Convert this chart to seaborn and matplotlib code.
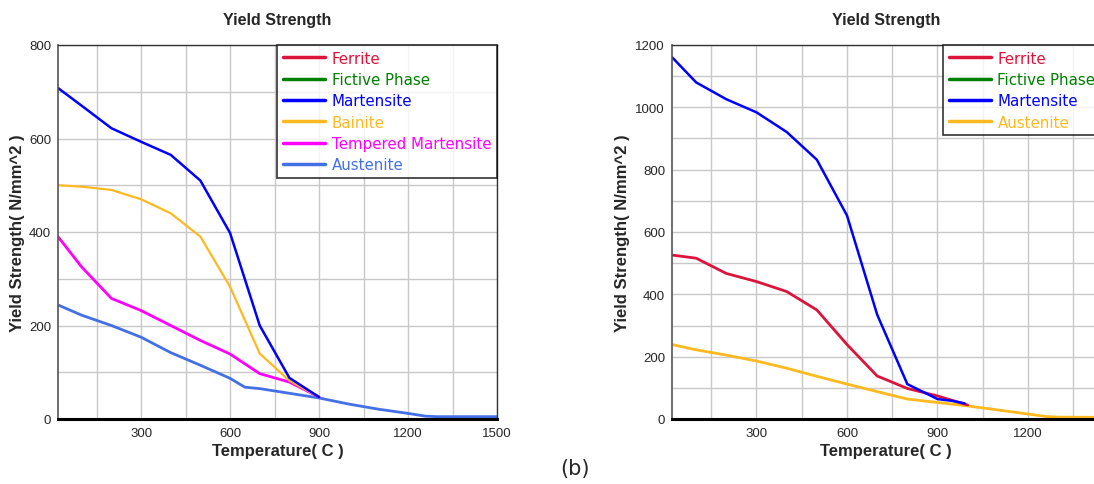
import matplotlib
matplotlib.use("Agg")
import matplotlib.pyplot as plt
from matplotlib.ticker import MultipleLocator, FixedLocator
from matplotlib.lines import Line2D
import seaborn as sns
import pandas as pd

# ---- data (left chart) ----
mart_L_T = [20, 100, 200, 300, 400, 500, 600, 700, 800, 900]
mart_L_Y = [708, 670, 622, 593, 565, 510, 398, 200, 88, 47]
bain_T = [20, 100, 200, 300, 400, 500, 600, 700, 800, 900]
bain_Y = [500, 497, 490, 470, 440, 390, 283, 140, 82, 47]
temp_T = [20, 100, 200, 300, 400, 500, 600, 700, 800, 900]
temp_Y = [390, 325, 258, 232, 200, 168, 139, 97, 79, 47]
aust_L_T = [20, 100, 200, 300, 400, 500, 600, 650, 700, 800, 900, 1000, 1100, 1200, 1260, 1300, 1500]
aust_L_Y = [244, 222, 200, 175, 142, 115, 87, 68, 65, 55, 45, 32, 21, 12, 6, 5, 5]

# ---- data (right chart) ----
mart_R_T = [20, 100, 200, 300, 400, 500, 600, 700, 800, 900, 950, 990]
mart_R_Y = [1161, 1080, 1026, 984, 921, 832, 653, 335, 112, 64, 58, 50]
ferr_T = [20, 100, 200, 300, 400, 500, 600, 700, 800, 900, 1000]
ferr_Y = [526, 516, 467, 441, 409, 350, 239, 138, 98, 74, 45]
aust_R_T = [20, 100, 200, 300, 400, 500, 600, 700, 800, 900, 1000, 1100, 1200, 1260, 1300, 1500]
aust_R_Y = [239, 222, 205, 186, 163, 137, 112, 88, 64, 53, 42, 29, 16, 8, 6, 5]

left_labels = ["Ferrite", "Fictive Phase", "Martensite", "Bainite", "Tempered Martensite", "Austenite"]
right_labels = ["Ferrite", "Fictive Phase", "Martensite", "Austenite"]
left_xticks = [300, 600, 900, 1200, 1500]
right_xticks = [300, 600, 900, 1200]

C_FERR = "#DC143C"
C_FICT = "#008000"
C_MART = "#0000FF"
C_BAIN = "#FFB920"
C_TEMP = "#FF00FF"
C_AUSL = "#4470E6"

sns.set_style("white")
plt.rcParams["font.family"] = ["Liberation Sans", "DejaVu Sans"]

W, H = 1094, 485
fig = plt.figure(figsize=(W / 100, H / 100), dpi=100)

def px_axes(l, t, r, b):
    return fig.add_axes([l / W, 1 - b / H, (r - l) / W, (b - t) / H])

axL = px_axes(58, 46, 497, 420)
axR = px_axes(672, 46, 1118.5, 420)

def draw(ax, series, ymax, xticks, ylab_x, center_x):
    for T, Y, c, lw in series:
        df = pd.DataFrame({"T": T, "Y": Y})
        sns.lineplot(data=df, x="T", y="Y", ax=ax, color=c, linewidth=lw,
                     estimator=None, sort=False, legend=False)
    ax.set_xlim(20, 1500)
    ax.set_ylim(0, ymax)
    ax.xaxis.set_major_locator(FixedLocator(xticks))
    ax.xaxis.set_minor_locator(MultipleLocator(150))
    ax.yaxis.set_major_locator(MultipleLocator(200))
    ax.yaxis.set_minor_locator(MultipleLocator(100))
    ax.grid(True, which="both", color="#C8C8C8", linewidth=1.0)
    ax.set_axisbelow(True)
    for s in ["top", "right"]:
        ax.spines[s].set_color("#333333")
        ax.spines[s].set_linewidth(1.0)
    ax.spines["left"].set_color("#555555")
    ax.spines["left"].set_linewidth(1.2)
    ax.spines["bottom"].set_color("black")
    ax.spines["bottom"].set_linewidth(2.2)
    ax.tick_params(axis="x", which="major", direction="in", length=4, width=1,
                   labelsize=9.5, pad=6, color="black")
    ax.tick_params(axis="y", which="major", direction="out", length=3, width=1,
                   labelsize=9.5, pad=2, color="black")
    ax.tick_params(which="minor", length=0)
    ax.set_xlabel("")
    ax.set_ylabel("")
    fig.text(center_x / W, 1 - 452 / H, "Temperature( C )", ha="center", va="center",
             fontsize=12, fontweight="bold")
    fig.text(ylab_x / W, 1 - 233 / H, "Yield Strength( N/mm^2 )", ha="center", va="center",
             rotation=90, fontsize=12, fontweight="bold")
    fig.text(center_x / W, 1 - 20 / H, "Yield Strength", ha="center", va="center",
             fontsize=11.5, fontweight="bold")

draw(axL, [
    (aust_L_T, aust_L_Y, C_AUSL, 2.0),
    (temp_T, temp_Y, C_TEMP, 2.0),
    (bain_T, bain_Y, C_BAIN, 1.6),
    (mart_L_T, mart_L_Y, C_MART, 1.8),
], 800, left_xticks, 18, 277.5)

draw(axR, [
    (aust_R_T, aust_R_Y, C_BAIN, 2.0),
    (ferr_T, ferr_Y, C_FERR, 2.0),
    (mart_R_T, mart_R_Y, C_MART, 1.8),
], 1200, right_xticks, 623, 886)

def legend(ax, labels, colors, **kw):
    handles = [Line2D([], [], color=c, linewidth=2.5) for c in colors]
    leg = ax.legend(handles, labels, frameon=True, fancybox=False,
                    borderaxespad=0, handlelength=2.8, handletextpad=0.45,
                    labelspacing=0.42, borderpad=0.38,
                    prop={"family": "DejaVu Sans", "size": 10.8}, **kw)
    leg.get_frame().set_edgecolor("black")
    leg.get_frame().set_linewidth(1.2)
    for t, c in zip(leg.get_texts(), colors):
        t.set_color(c)

legend(axL, left_labels, [C_FERR, C_FICT, C_MART, C_BAIN, C_TEMP, C_AUSL], loc="upper right")
legend(axR, right_labels, [C_FERR, C_FICT, C_MART, C_BAIN], loc="upper left",
       bbox_to_anchor=((943 - 672) / 446.5, 1.0))

fig.text(575 / W, 1 - 469 / H, "(b)", ha="center", va="center", fontsize=15,
         family="DejaVu Sans")

fig.savefig("out.png", dpi=100)
